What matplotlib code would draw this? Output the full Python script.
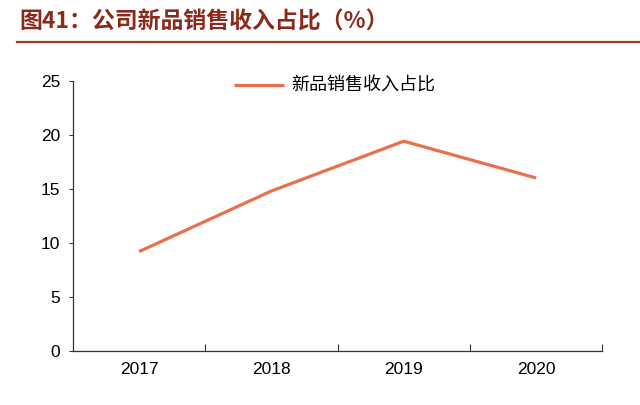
import matplotlib.pyplot as plt
from matplotlib.lines import Line2D

plt.rcParams['font.family'] = ['Liberation Sans', 'Noto Sans CJK SC', 'DejaVu Sans']

#chart data
years = ["2017", "2018", "2019", "2020"]
share = [9.2, 14.8, 19.4, 16.0]

line_color = "#E8704C"
title_color = "#8B2A1A"

fig = plt.figure(figsize=(6.4, 4.05), dpi=100)
ax = fig.add_axes([0.114, 0.133, 0.827, 0.668])

x = list(range(len(years)))
ax.plot(x, share, color=line_color, linewidth=2.3, label="新品销售收入占比", solid_capstyle="butt")

ax.set_xlim(-0.5, len(years) - 0.5)
ax.set_ylim(0, 25)
ax.set_yticks([0, 5, 10, 15, 20, 25])
ax.set_xticks(x)
ax.set_xticklabels(years)
ax.set_xticks([i + 0.5 for i in range(len(years))], minor=True)

ax.tick_params(axis="x", which="major", length=0, pad=8, labelsize=12.5)
ax.tick_params(axis="x", which="minor", direction="in", length=5, width=0.8, color="#333333")
ax.tick_params(axis="y", direction="out", length=3, width=0.8, color="#333333", labelsize=12.5, pad=6)

for side in ["top", "right"]:
    ax.spines[side].set_visible(False)
for side in ["left", "bottom"]:
    ax.spines[side].set_color("#333333")
    ax.spines[side].set_linewidth(0.9)

#legend sits at the top, a bit right of centre
leg = ax.legend(loc="upper left", bbox_to_anchor=(0.29, 1.04), frameon=False,
                prop={"family": ["Noto Sans CJK SC"], "size": 13},
                handlelength=2.8, handletextpad=0.4, borderaxespad=0)

#title and the rule below it
fig.text(0.03, 0.945, "图41：公司新品销售收入占比（%）", color=title_color,
         fontsize=16.5, fontweight="bold", va="center",
         family=["Noto Sans CJK SC", "DejaVu Sans"])
fig.add_artist(Line2D([17 / 640, 1.0], [1 - 42 / 405, 1 - 42 / 405],
                      color="#A0391F", linewidth=1.6))

fig.savefig("out.png", dpi=100)
